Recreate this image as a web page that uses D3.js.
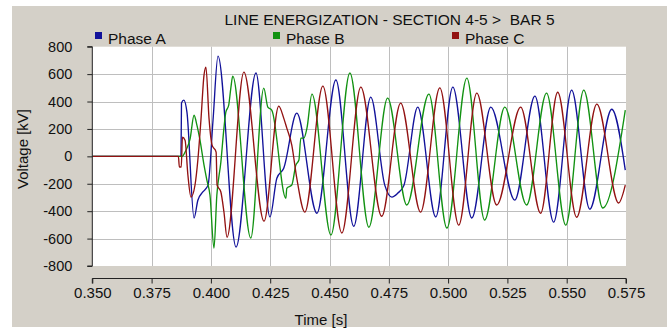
<!DOCTYPE html>
<html>
<head>
<meta charset="utf-8">
<script src="https://cdn.jsdelivr.net/npm/d3@7"></script>
<style>
  html, body { margin: 0; padding: 0; background: #ffffff; }
  svg { display: block; font-family: "Liberation Sans", Arial, sans-serif; }
  text { white-space: pre; }
</style>
</head>
<body>
<svg id="chart" width="669" height="329"></svg>
<script>
// Phase voltages after breaker closing, [time s, voltage kV]
const phaseA = [
  [0.350, 0], [0.3874, 0], [0.3876, 389], [0.3886, 410], [0.3899, 323], [0.3929, -450],
  [0.3945, -320], [0.3966, -260], [0.3988, -210], [0.4009, 265], [0.4030, 731],
  [0.4106, -662], [0.4190, 608], [0.4249, -442], [0.4278, -160], [0.4307, -86],
  [0.4362, 315], [0.4447, -415], [0.4527, 557], [0.4602, -510], [0.4674, 432],
  [0.4733, -210], [0.4763, -297], [0.4788, -268], [0.4814, -210], [0.4872, 359],
  [0.4948, -442], [0.5020, 505], [0.5100, -450], [0.5180, 359], [0.5281, -319],
  [0.5366, 439], [0.5445, -480], [0.5521, 483], [0.5597, -385], [0.5690, 344],
  [0.5747, -100]
];
const phaseB = [
  [0.350, 0], [0.3878, 0], [0.3895, 45], [0.3912, 125], [0.3929, 300], [0.3941, 228],
  [0.3954, 118], [0.3971, -64], [0.3983, -173], [0.3996, -282], [0.4013, -669],
  [0.4025, -284], [0.4042, -42], [0.4055, 206], [0.4063, 322], [0.4075, 373],
  [0.4084, 498], [0.4092, 585], [0.4168, -596], [0.4223, 498], [0.4240, 359],
  [0.4257, 336], [0.4316, -306], [0.4320, -233], [0.4341, -209], [0.4358, -64],
  [0.4371, -27], [0.4379, 133], [0.4392, 133], [0.4405, 206], [0.4426, 454],
  [0.4506, -574], [0.4586, 608], [0.4666, -517], [0.4745, 425], [0.4826, -355],
  [0.4919, 454], [0.4995, -523], [0.5079, 571], [0.5154, -465], [0.5239, 359],
  [0.5331, -355], [0.5415, 461], [0.5496, -502], [0.5572, 483], [0.5652, -377],
  [0.5747, 338]
];
const phaseC = [
  [0.350, 0], [0.3863, 0], [0.3867, -78], [0.3875, -78], [0.3880, 139], [0.3891, 118],
  [0.3903, -136], [0.3916, -297], [0.3933, -209], [0.3945, -27], [0.3958, 265],
  [0.3971, 593], [0.3979, 651], [0.3992, 279], [0.4005, 82], [0.4022, 31],
  [0.4026, -209], [0.4042, -260], [0.4055, -406], [0.4068, -590], [0.4139, 615],
  [0.4224, -473], [0.4286, 366], [0.4307, 279], [0.4320, 206], [0.4341, 82],
  [0.4362, -159], [0.4396, -407], [0.4472, 512], [0.4552, -559], [0.4632, 505],
  [0.4720, -437], [0.4800, 388], [0.4884, -407], [0.4965, 500], [0.5045, -502],
  [0.5121, 461], [0.5205, -355], [0.5306, 359], [0.5390, -415], [0.5462, 468],
  [0.5542, -444], [0.5627, 381], [0.5719, -340], [0.5747, -210]
];

const seriesNames = ["Phase A", "Phase B", "Phase C"];
const seriesColors = ["#12129a", "#129212", "#921212"];
const timeTicks = [0.350, 0.375, 0.400, 0.425, 0.450, 0.475, 0.500, 0.525, 0.550, 0.575];
const voltTicks = [800, 600, 400, 200, 0, -200, -400, -600, -800];
const titleText = "LINE ENERGIZATION - SECTION 4-5 >  BAR 5";

const svg = d3.select("#chart");
const plot = { left: 92.3, right: 626, top: 46.7, bottom: 266 };

const x = d3.scaleLinear().domain([0.350, 0.575]).range([plot.left, plot.right]);
const y = d3.scaleLinear().domain([-800, 800]).range([plot.bottom, plot.top]);

// panel background
svg.append("rect").attr("x", 12).attr("y", 6).attr("width", 655).attr("height", 321)
  .attr("fill", "#d4d0c8");

// plot area
svg.append("rect").attr("x", plot.left).attr("y", plot.top)
  .attr("width", plot.right - plot.left).attr("height", plot.bottom - plot.top)
  .attr("fill", "#ffffff");

// grid
const grid = svg.append("g");
grid.selectAll("line.v").data(timeTicks.slice(1, -1)).join("line")
  .attr("x1", d => Math.round(x(d)) + 0.5).attr("x2", d => Math.round(x(d)) + 0.5)
  .attr("y1", plot.top).attr("y2", plot.bottom)
  .attr("stroke", "#bebebe").attr("stroke-width", 1);
grid.selectAll("line.h").data(voltTicks.slice(1, -1)).join("line")
  .attr("x1", plot.left).attr("x2", plot.right)
  .attr("y1", d => Math.round(y(d)) + 0.5).attr("y2", d => Math.round(y(d)) + 0.5)
  .attr("stroke", d => d === 0 ? "#9a9a9a" : "#bebebe").attr("stroke-width", 1);

// waveforms
svg.append("clipPath").attr("id", "clip").append("rect")
  .attr("x", plot.left).attr("y", plot.top)
  .attr("width", plot.right - plot.left).attr("height", plot.bottom - plot.top);

const line = d3.line().x(d => x(d[0])).y(d => y(d[1])).curve(d3.curveMonotoneX);
const waves = svg.append("g").attr("clip-path", "url(#clip)");
[phaseA, phaseB, phaseC].forEach((s, i) => {
  waves.append("path").datum(s).attr("d", line)
    .attr("fill", "none").attr("stroke", seriesColors[i])
    .attr("stroke-width", 1.35).attr("stroke-linejoin", "round");
});

// plain hyphen for negative tick values
const kvFormat = d => String(d);

// y axis
const yAxis = svg.append("g").attr("transform", `translate(${plot.left},0)`)
  .call(d3.axisLeft(y).tickValues(voltTicks).tickSize(5).tickPadding(15).tickFormat(kvFormat));
yAxis.select(".domain").attr("stroke", "#222").attr("d", `M-5,${plot.top}H0V${plot.bottom}H-5`);
yAxis.selectAll(".tick line").attr("stroke", "#222");
yAxis.selectAll(".tick text").attr("font-size", 14.5).attr("fill", "#111")
  .attr("font-family", "Liberation Sans, Arial, sans-serif");

// x axis, offset below the plot
const xAxisY = 278.5;
const xAxis = svg.append("g").attr("transform", `translate(0,${xAxisY})`)
  .call(d3.axisBottom(x).tickValues(timeTicks).tickSize(5).tickPadding(4).tickFormat(d => d.toFixed(3)));
xAxis.select(".domain").attr("stroke", "#222").attr("d", `M${plot.left},5V0H${plot.right}V5`);
xAxis.selectAll(".tick line").attr("stroke", "#222");
xAxis.selectAll(".tick text").attr("font-size", 15).attr("fill", "#111")
  .attr("font-family", "Liberation Sans, Arial, sans-serif");

// axis titles
svg.append("text").attr("x", 321).attr("y", 325).attr("text-anchor", "middle")
  .attr("font-size", 15).attr("fill", "#111").text("Time [s]");
svg.append("text").attr("transform", "translate(28,149) rotate(-90)")
  .attr("text-anchor", "middle").attr("font-size", 15).attr("fill", "#111").text("Voltage [kV]");

// title
svg.append("text").attr("x", 389.5).attr("y", 24.5).attr("text-anchor", "middle")
  .attr("font-size", 15.5).attr("fill", "#111").text(titleText);

// legend
const legendX = [95, 273, 452];
const legend = svg.append("g");
seriesNames.forEach((name, i) => {
  legend.append("rect").attr("x", legendX[i]).attr("y", 32).attr("width", 7).attr("height", 7)
    .attr("fill", seriesColors[i]);
  legend.append("text").attr("x", legendX[i] + 13).attr("y", 44)
    .attr("font-size", 15.5).attr("fill", "#111").text(name);
});
</script>
</body>
</html>
